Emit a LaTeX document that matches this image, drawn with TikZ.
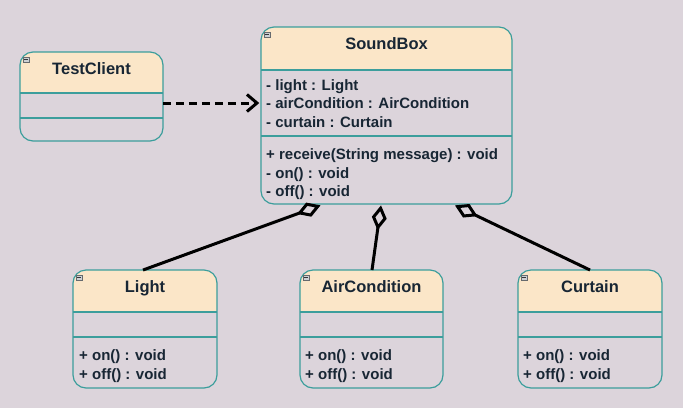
\documentclass[tikz,border=0pt]{standalone}
\usepackage{fontspec}
\setmainfont{Liberation Sans}
\usetikzlibrary{arrows.meta,calc}
\definecolor{bgc}{RGB}{220,212,219}
\definecolor{headc}{RGB}{251,230,200}
\definecolor{borderc}{RGB}{60,158,156}
\definecolor{txtc}{RGB}{24,38,52}
\definecolor{iconc}{RGB}{170,176,184}
\tikzset{
  classborder/.style={draw=borderc, line width=1.2bp},
  classtitle/.style={anchor=base, inner sep=0, text=txtc, font=\fontsize{16.5bp}{19bp}\selectfont\bfseries},
  classline/.style={anchor=base west, inner sep=0, text=txtc, font=\fontsize{15bp}{18bp}\selectfont\bfseries},
  aggline/.style={line width=3bp, {Diamond[open,length=25bp,width=15bp]}-},
  depline/.style={line width=3bp, dash pattern=on 8bp off 5bp, -{Straight Barb[length=10bp,width=17bp]}},
}
% #1 name, #2 x1, #3 y1(top), #4 x2, #5 y2(bottom), #6 header bottom, #7 separator, #8 title
\newcommand\UMLclassbox[8]{%
  \fill[headc] (#2,#6) [rounded corners=13bp] -- (#2,#3) -- (#4,#3) [sharp corners] -- (#4,#6) -- cycle;
  \draw[classborder, rounded corners=13bp] (#2,#3) rectangle (#4,#5);
  \draw[classborder] (#2,#6) -- (#4,#6);
  \draw[classborder] (#2,#7) -- (#4,#7);
  \node[draw=none, inner sep=0, minimum width={#4-#2}, minimum height={#5-#3}] (#1) at ({(#2+#4)/2},{(#3+#5)/2}) {};
  \node[classtitle] (#1-title) at ({(#2+#4)/2},{#3+22}) {#8};
  \fill[iconc!60] (#2+3,#3+5) rectangle (#2+9,#3+10);
  \draw[iconc!60!black, line width=0.5bp] (#2+3,#3+5) rectangle (#2+9,#3+10);
  \draw[iconc!30!black, line width=0.6bp] (#2+4.3,#3+7.5) -- (#2+7.7,#3+7.5);
}
\begin{document}
\begin{tikzpicture}[x=1bp,y=-1bp]
\fill[bgc] (0,0) rectangle (683,408);
\useasboundingbox (0,0) rectangle (683,408);

\UMLclassbox{TestClient}{20}{52}{163}{141}{93}{118}{TestClient}
\UMLclassbox{SoundBox}{261}{27}{512}{204}{70}{136}{SoundBox}
\UMLclassbox{Light}{73}{270}{217}{388}{312}{337}{Light}
\UMLclassbox{AirCondition}{300}{270}{443}{388}{312}{337}{AirCondition}
\UMLclassbox{Curtain}{518}{270}{662}{388}{312}{337}{Curtain}

% SoundBox members
\node[classline] (sb-a1) at (266,90) {- light : Light};
\node[classline] (sb-a2) at (266,108.5) {- airCondition : AirCondition};
\node[classline] (sb-a3) at (266,127) {- curtain : Curtain};
\node[classline] (sb-m1) at (266,159.5) {+ receive(String message) : void};
\node[classline] (sb-m2) at (266,178) {- on() : void};
\node[classline] (sb-m3) at (266,196.5) {- off() : void};

% Light
\node[classline] (l-m1) at (79,360.5) {+ on() : void};
\node[classline] (l-m2) at (79,379) {+ off() : void};
% AirCondition
\node[classline] (a-m1) at (305,360.5) {+ on() : void};
\node[classline] (a-m2) at (305,379) {+ off() : void};
% Curtain
\node[classline] (c-m1) at (523,360.5) {+ on() : void};
\node[classline] (c-m2) at (523,379) {+ off() : void};

% dependency
\draw[depline] ([yshift=-6.5bp]TestClient.east) -- ([yshift=-6.5bp,xshift=-2bp]TestClient.east -| SoundBox.west);

% aggregations
\draw[aggline] ([xshift=-66bp,yshift=-1.5bp]SoundBox.south) -- ([xshift=-2bp]Light.north);
\draw[aggline] ([xshift=-5.5bp,yshift=-1.5bp]SoundBox.south) -- ([xshift=0.5bp]AirCondition.north);
\draw[aggline] ([xshift=68.5bp,yshift=-1.5bp]SoundBox.south) -- (Curtain.north);
\end{tikzpicture}
\end{document}
